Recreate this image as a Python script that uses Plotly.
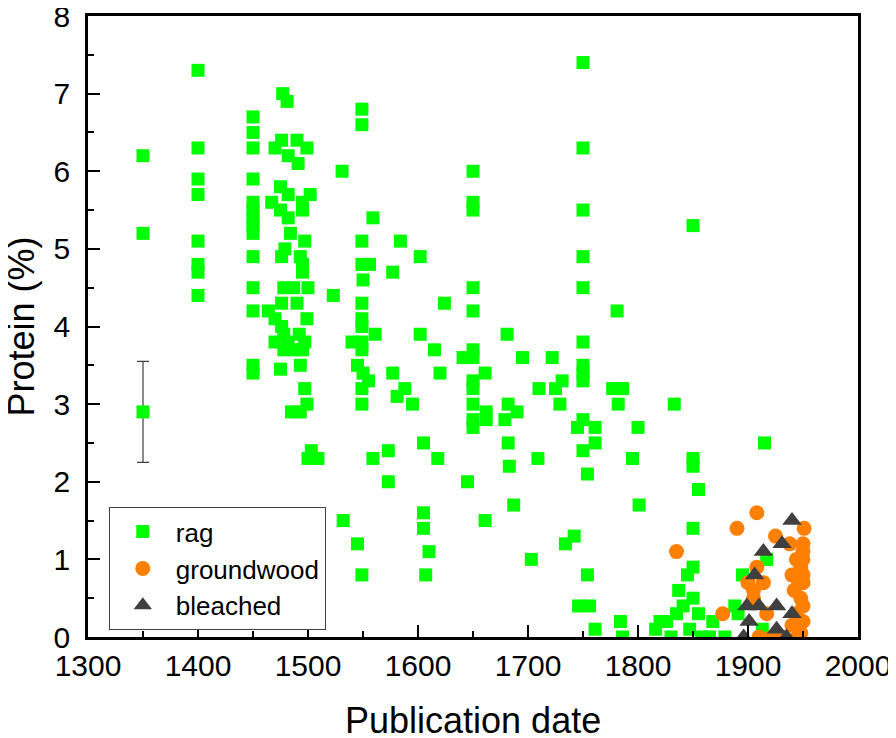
import plotly.graph_objects as go

# rag paper samples (publication year, protein %)
rag_year = [
    1350, 1350,
    1400, 1400, 1400, 1400, 1400, 1400, 1400, 1400,
    1450, 1450, 1450, 1450, 1450, 1450, 1450, 1450, 1450, 1450, 1450, 1450, 1450, 1450,
    1477, 1481, 1476, 1490, 1470, 1499, 1482, 1491,
    1475, 1482, 1502, 1467, 1495, 1475, 1495, 1482,
    1484, 1497, 1479, 1476, 1493, 1495, 1495,
    1478, 1487, 1500, 1476, 1490, 1464, 1470, 1476, 1499,
    1478, 1492, 1470, 1482, 1497, 1488, 1478, 1495,
    1475, 1493, 1497, 1499, 1485, 1493, 1503, 1500, 1509,
    1523, 1531, 1532,
    1549, 1549, 1549, 1549, 1556, 1550, 1549, 1549, 1549, 1540, 1549, 1549,
    1545, 1550, 1555, 1549, 1549, 1545, 1549, 1561, 1559, 1559,
    1577, 1584, 1577, 1573, 1573, 1588, 1581, 1595,
    1602, 1602, 1605, 1605, 1605, 1610, 1607, 1615, 1620, 1618, 1624, 1641, 1645,
    1650, 1650, 1650, 1650, 1650, 1650, 1650, 1650, 1650, 1650, 1650, 1650,
    1661, 1662, 1662, 1661,
    1681, 1682, 1690, 1679, 1682, 1683, 1687,
    1695, 1710, 1709, 1703,
    1722, 1731, 1725, 1729, 1742, 1734,
    1750, 1750, 1750, 1750, 1750, 1750, 1750, 1750, 1750, 1750, 1750,
    1745, 1761, 1761, 1754, 1754, 1746, 1756, 1761,
    1781, 1777, 1786, 1782, 1784, 1786, 1800, 1795, 1801,
    1833, 1850, 1850, 1850, 1855, 1850, 1850, 1845, 1837, 1841, 1850, 1835, 1855,
    1826, 1820, 1816, 1830, 1847, 1868, 1865, 1858, 1879,
    1915, 1895, 1917, 1888, 1891, 1913,
]
rag_protein = [
    6.2, 5.2,
    7.3, 6.3, 5.9, 5.7, 5.1, 4.8, 4.7, 4.4,
    6.7, 6.5, 6.3, 5.9, 5.6, 5.5, 5.4, 5.3, 5.2, 4.9, 4.5, 4.2, 3.5, 3.4,
    7.0, 6.9, 6.4, 6.4, 6.3, 6.3, 6.2, 6.1,
    5.8, 5.7, 5.7, 5.6, 5.6, 5.5, 5.5, 5.4,
    5.2, 5.1, 5.0, 4.9, 4.9, 4.8, 4.7,
    4.5, 4.5, 4.5, 4.3, 4.3, 4.2, 4.1, 4.0, 4.1,
    3.9, 3.9, 3.8, 3.8, 3.8, 3.7, 3.7, 3.7,
    3.45, 3.5, 3.2, 3.0, 2.9, 2.9, 2.4, 2.3, 2.3,
    4.4, 6.0, 1.5,
    6.8, 6.6, 5.1, 4.8, 4.8, 4.6, 4.3, 4.1, 4.0, 3.8, 3.8, 3.7,
    3.5, 3.4, 3.3, 3.2, 3.0, 1.2, 0.8, 3.9, 5.4, 2.3,
    4.7, 5.1, 3.4, 2.4, 2.0, 3.2, 3.1, 3.0,
    4.9, 3.9, 2.5, 1.6, 1.4, 1.1, 0.8, 3.7, 3.4, 2.3, 4.3, 3.6, 2.0,
    6.0, 5.6, 5.5, 4.5, 4.2, 3.7, 3.6, 3.3, 3.2, 3.0, 2.8, 2.7,
    3.4, 2.9, 2.8, 1.5,
    3.9, 3.0, 2.9, 2.8, 2.5, 2.2, 1.7,
    3.6, 3.2, 2.3, 1.0,
    3.6, 3.3, 3.2, 3.0, 1.3, 1.2,
    7.4, 6.3, 5.5, 4.9, 4.5, 3.8, 3.5, 3.4, 3.3, 2.8, 2.4,
    2.7, 2.7, 2.5, 2.1, 0.8, 0.4, 0.4, 0.1,
    4.2, 3.2, 3.2, 3.0, 0.2, 0.0, 2.7, 2.3, 1.7,
    3.0, 5.3, 2.3, 2.2, 1.9, 1.4, 0.9, 0.8, 0.6, 0.4, 0.5, 0.3, 0.3,
    0.2, 0.2, 0.1, 0.0, 0.1, 0.2, 0.0, 0.0, 0.0,
    2.5, 0.8, 1.0, 0.4, 0.3, 0.1,
]

# rag sample shown with its error bar
err_year = [1350]
err_protein = [2.9]
err_size = [0.65]

groundwood_year = [
    1908, 1890, 1835, 1925, 1951, 1908, 1900, 1914, 1905, 1905, 1877, 1917,
    1910, 1922, 1931, 1945,
    1938, 1950, 1950, 1944, 1950, 1948, 1940, 1950, 1946, 1950, 1942, 1948,
    1950, 1944, 1950, 1940, 1948,
]
groundwood_protein = [
    1.6, 1.4, 1.1, 1.3, 1.4, 0.9, 0.7, 0.7, 0.6, 0.5, 0.3, 0.3,
    0.0, 0.0, 0.0, 0.0,
    1.2, 1.2, 1.1, 1.0, 1.0, 0.9, 0.8, 0.8, 0.7, 0.7, 0.6, 0.5,
    0.4, 0.3, 0.2, 0.15, 0.05,
]

bleached_year = [1940, 1931, 1914, 1906, 1899, 1910, 1926, 1940, 1901, 1926, 1896, 1935]
bleached_protein = [1.5, 1.2, 1.1, 0.8, 0.4, 0.4, 0.4, 0.3, 0.2, 0.1, 0.0, 0.0]

x_ticks = [1300, 1400, 1500, 1600, 1700, 1800, 1900, 2000]
y_ticks = [0, 1, 2, 3, 4, 5, 6, 7, 8]

font = "Arial, Liberation Sans, sans-serif"
fig = go.Figure()

fig.add_trace(go.Scatter(
    x=err_year, y=err_protein, mode="markers", showlegend=False,
    marker=dict(symbol="square", size=13, color="#00FF00"),
    error_y=dict(type="data", array=err_size, color="#404040", thickness=1.2, width=6),
))
fig.add_trace(go.Scatter(
    x=rag_year, y=rag_protein, mode="markers", name="rag",
    marker=dict(symbol="square", size=13, color="#00FF00"),
))
fig.add_trace(go.Scatter(
    x=groundwood_year, y=groundwood_protein, mode="markers", name="groundwood",
    marker=dict(symbol="circle", size=15, color="#FF8000"),
))
fig.add_trace(go.Scatter(
    x=bleached_year, y=bleached_protein, mode="markers", name="bleached",
    marker=dict(symbol="triangle-up", size=17, color="#404040"),
))

axis_style = dict(
    showline=True, linecolor="black", linewidth=2.5, mirror=True,
    ticks="inside", ticklen=12, tickwidth=2, tickcolor="black",
    showgrid=False, zeroline=False, automargin=False,
    ticklabeloverflow="allow",
    tickfont=dict(size=30, color="black", family=font),
)

fig.update_xaxes(
    range=[1300, 2000], tickmode="array", tickvals=x_ticks,
    minor=dict(dtick=50, ticks="inside", ticklen=6, tickwidth=2, tickcolor="black"),
    **axis_style,
)
fig.update_yaxes(
    range=[0, 8], tickmode="array", tickvals=y_ticks,
    minor=dict(dtick=0.5, ticks="inside", ticklen=6, tickwidth=2, tickcolor="black"),
    ticklabelstandoff=9,
    **axis_style,
)

# axis titles as annotations so they can sit exactly where the original has them
title_font = dict(size=36, color="black", family=font)
fig.add_annotation(
    text="Publication date", xref="paper", yref="paper", x=0.5, y=-0.135,
    xanchor="center", yanchor="middle", showarrow=False, font=title_font,
)
fig.add_annotation(
    text="Protein (%)", xref="paper", yref="paper", x=-0.087, y=0.5,
    xanchor="center", yanchor="middle", textangle=-90, showarrow=False, font=title_font,
)

# the page adds an 8px body margin, so left/top margins are 8px smaller
fig.update_layout(
    width=888, height=730,
    margin=dict(l=80, r=38, t=8, b=101),
    plot_bgcolor="white", paper_bgcolor="white",
    font=dict(family=font, color="black"),
    legend=dict(
        x=0.027, y=0.209, xanchor="left", yanchor="top",
        bgcolor="white", bordercolor="#404040", borderwidth=1,
        font=dict(size=26, family=font, color="black"),
        itemwidth=56, tracegroupgap=0,
    ),
)

fig.write_html("out.html")
